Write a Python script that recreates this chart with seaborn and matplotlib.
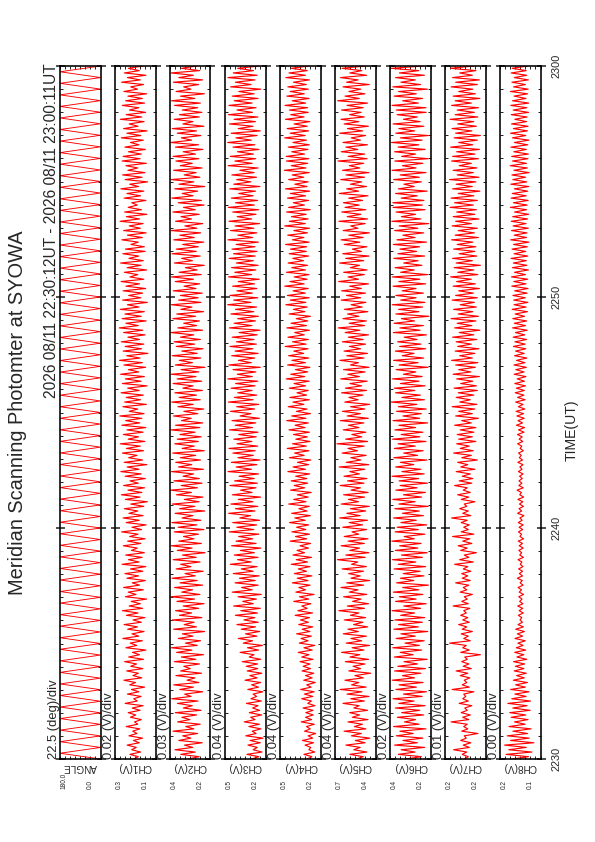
"""Meridian scanning photometer summary plot (SYOWA), page turned to portrait."""

import numpy as np
import pandas as pd
import matplotlib
matplotlib.use("Agg")
import matplotlib.pyplot as plt
import seaborn as sns
from matplotlib.ticker import MultipleLocator

# ---- data ----
title = "Meridian Scanning Photomter at SYOWA"
period = "2026 08/11 22:30:12UT - 2026 08/11 23:00:11UT"
time_ticks = ["2230", "2240", "2250", "2300"]
panel_names = ["ANGLE", "CH1(V)", "CH2(V)", "CH3(V)", "CH4(V)", "CH5(V)", "CH6(V)", "CH7(V)", "CH8(V)"]
div_labels = ["22.5 (deg)/div", "0.02 (V)/div", "0.03 (V)/div", "0.04 (V)/div", "0.04 (V)/div",
              "0.04 (V)/div", "0.02 (V)/div", "0.01 (V)/div", "0.00 (V)/div"]
val_lo = [0.0, 0.12, 0.18, 0.20, 0.20, 0.40, 0.22, 0.16, 0.130]
val_hi = [180.0, 0.28, 0.42, 0.52, 0.52, 0.72, 0.38, 0.24, 0.162]

# scan angle turning points (deg)
angle = [
    0, 180, 0, 180, 0, 180, 0, 180, 0, 180, 0, 180, 0, 180, 0, 180, 0, 180, 0, 180,
    0, 180, 0, 180, 0, 180, 0, 180, 0, 180, 0, 180, 0, 180, 0, 180, 0, 180, 0, 180,
    0, 180, 0, 180, 0, 180, 0, 180, 0, 180, 0, 180, 0, 180, 0, 180, 0, 180, 0, 180,
    0, 180, 0, 180, 0, 180, 0, 180, 0, 180, 0, 180, 0, 180, 0, 180, 0, 180, 0, 180,
    0, 180, 0, 180, 0, 180, 0, 180, 0, 180, 0, 180, 0, 180, 0, 180, 0, 180, 0, 180,
    0, 180, 0, 180, 0, 180, 0, 180, 0, 180, 0, 180, 0, 180, 0, 180, 0, 180, 0, 180,
    0,
]

# channel signals in mV, from 22:30 to 23:00
ch1 = [
    205, 188, 221, 179, 214, 196, 232, 184, 207, 171, 225, 193, 210, 182, 236, 190, 203, 176, 219, 198,
    228, 181, 212, 169, 240, 192, 206, 177, 231, 186, 215, 163, 222, 199, 245, 174, 209, 188, 234, 170,
    218, 195, 242, 167, 226, 183, 211, 158, 237, 194, 220, 172, 249, 186, 213, 165, 230, 191, 244, 176,
    209, 162, 235, 189, 251, 171, 224, 180, 216, 155, 239, 197, 228, 168, 246, 183, 212, 160, 233, 187,
    241, 170, 219, 158, 252, 185, 227, 173, 238, 164, 215, 192, 247, 178, 230, 161, 222, 189, 254, 175,
    213, 157, 236, 184, 248, 169, 225, 190, 243, 166, 218, 152, 239, 181, 255, 174, 229, 163, 246, 188,
    221, 160, 240, 176, 257, 185, 232, 154, 244, 171, 226, 193, 251, 167, 235, 180, 259, 162, 228, 187,
    247, 169, 233, 158, 253, 182, 238, 174, 261, 165, 224, 190, 249, 156, 242, 179, 236, 168, 256, 184,
    230, 153, 251, 177, 239, 164, 258, 186, 227, 159, 245, 172, 262, 181, 234, 150, 248, 175, 240, 166,
    255, 183, 229, 161, 246, 170, 263, 188, 237, 157, 252, 176, 241, 164, 259, 185, 231, 152, 250, 178,
    226, 171, 248, 159, 237, 183, 256, 166, 221, 190, 243, 155, 232, 177, 258, 168, 225, 186, 249, 161,
    239, 164, 217, 188, 253, 172, 231, 157, 246, 180, 224, 169, 260, 183, 235, 154, 242, 175, 228, 192,
    214, 158, 244, 179, 233, 166, 257, 187, 222, 151, 240, 173, 250, 162, 229, 190, 237, 156, 252, 181,
    248, 176, 227, 160, 241, 185, 219, 168, 255, 178, 233, 153, 246, 189, 224, 165, 259, 174, 236, 159,
    223, 186, 251, 163, 238, 172, 229, 155, 245, 191, 218, 167, 254, 180, 231, 158, 243, 184, 227, 170,
]
ch2 = [
    312, 248, 356, 270, 391, 285, 334, 229, 368, 297, 345, 256, 402, 279, 327, 241, 375, 302, 350, 262,
    389, 236, 341, 288, 376, 254, 410, 295, 333, 226, 362, 281, 398, 249, 319, 272, 385, 233, 357, 300,
    338, 245, 394, 267, 353, 221, 381, 290, 412, 258, 329, 239, 371, 284, 347, 215, 399, 263, 336, 277,
    405, 231, 364, 292, 387, 250, 342, 218, 379, 275, 416, 243, 351, 286, 393, 227, 361, 259, 408, 270,
    331, 223, 384, 296, 357, 242, 401, 265, 346, 212, 377, 289, 414, 234, 368, 278, 340, 251, 395, 219,
    372, 261, 409, 237, 349, 284, 390, 214, 363, 273, 406, 248, 335, 225, 382, 293, 418, 257, 354, 230,
    397, 246, 343, 280, 411, 222, 370, 291, 386, 239, 359, 268, 404, 217, 348, 276, 392, 252, 377, 235,
    361, 271, 415, 243, 387, 226, 352, 294, 399, 255, 338, 220, 373, 282, 410, 241, 366, 263, 391, 228,
    344, 283, 402, 232, 378, 266, 413, 249, 355, 213, 389, 287, 365, 238, 407, 259, 350, 224, 383, 274,
    396, 240, 358, 279, 417, 227, 374, 262, 339, 245, 403, 268, 380, 221, 356, 290, 412, 236, 369, 253,
    358, 229, 401, 266, 337, 244, 389, 281, 412, 235, 366, 259, 329, 217, 394, 287, 351, 241, 408, 264,
    383, 252, 345, 220, 398, 276, 362, 238, 415, 261, 332, 226, 387, 293, 355, 247, 403, 270, 340, 218,
    371, 234, 409, 283, 348, 256, 392, 214, 367, 279, 414, 243, 336, 265, 399, 230, 359, 288, 385, 249,
    402, 269, 342, 225, 388, 251, 416, 292, 353, 237, 377, 263, 406, 219, 344, 284, 395, 246, 364, 231,
    347, 256, 393, 240, 411, 273, 358, 216, 384, 296, 339, 250, 400, 227, 368, 281, 415, 244, 352, 262,
]
ch3 = [
    310, 252, 347, 228, 298, 265, 339, 241, 322, 219, 356, 274, 305, 236, 331, 248, 368, 283, 317, 230,
    328, 246, 302, 259, 351, 233, 315, 270, 298, 222, 340, 255, 310, 238, 362, 266, 324, 229, 345, 261,
    352, 262, 384, 238, 329, 291, 401, 255, 343, 224, 376, 302, 415, 268, 358, 246, 392, 279, 426, 257,
    371, 284, 438, 263, 395, 241, 452, 296, 380, 272, 417, 233, 463, 305, 389, 258, 441, 281, 406, 249,
    455, 297, 392, 266, 478, 313, 421, 259, 447, 288, 399, 236, 468, 274, 433, 301, 412, 252, 486, 292,
    427, 270, 459, 246, 403, 318, 491, 283, 437, 261, 474, 299, 415, 238, 462, 306, 397, 275, 481, 264,
    444, 289, 409, 255, 496, 311, 432, 268, 470, 243, 418, 296, 458, 281, 489, 262, 425, 308, 451, 273,
    412, 259, 484, 302, 439, 277, 465, 248, 401, 314, 477, 286, 428, 253, 493, 297, 446, 269, 419, 306,
    472, 282, 436, 261, 498, 304, 423, 276, 457, 241, 489, 312, 414, 285, 467, 258, 440, 299, 481, 272,
    429, 291, 463, 265, 409, 243, 485, 307, 448, 279, 420, 256, 474, 293, 437, 270, 499, 315, 452, 261,
    481, 304, 426, 268, 460, 287, 415, 249, 492, 310, 443, 276, 468, 258, 431, 296, 487, 281, 453, 267,
    465, 283, 432, 256, 497, 301, 419, 268, 476, 292, 441, 247, 488, 309, 424, 275, 459, 253, 494, 288,
    437, 262, 470, 297, 412, 279, 483, 244, 451, 316, 428, 271, 466, 290, 403, 258, 495, 305, 442, 277,
    478, 295, 421, 251, 457, 284, 499, 312, 434, 266, 472, 241, 416, 298, 485, 279, 448, 260, 493, 303,
    426, 274, 489, 306, 447, 259, 463, 290, 411, 237, 476, 314, 438, 283, 497, 266, 455, 295, 420, 248,
]
ch4 = [
    305, 268, 331, 246, 292, 277, 322, 255, 343, 262, 298, 238, 326, 281, 311, 249, 352, 270, 318, 257,
    316, 259, 338, 244, 301, 272, 349, 261, 327, 250, 357, 274, 309, 241, 333, 266, 318, 253, 346, 279,
    337, 283, 362, 259, 348, 291, 376, 266, 331, 245, 368, 298, 354, 272, 389, 284, 345, 261, 372, 296,
    358, 287, 401, 263, 379, 305, 348, 276, 412, 293, 366, 251, 395, 318, 371, 282, 423, 299, 384, 268,
    407, 311, 376, 284, 431, 302, 392, 271, 418, 326, 385, 295, 362, 278, 440, 309, 398, 287, 426, 316,
    389, 293, 445, 321, 403, 280, 428, 306, 371, 289, 451, 314, 412, 297, 384, 273, 437, 325, 408, 301,
    432, 308, 396, 285, 458, 319, 417, 294, 382, 276, 446, 329, 405, 291, 463, 312, 421, 283, 395, 304,
    413, 287, 449, 322, 401, 296, 467, 315, 428, 279, 390, 306, 455, 331, 418, 288, 442, 310, 386, 297,
    447, 318, 409, 290, 471, 325, 435, 301, 398, 284, 460, 319, 426, 292, 452, 333, 411, 298, 479, 314,
    421, 296, 457, 328, 404, 287, 466, 311, 433, 300, 392, 279, 448, 323, 414, 305, 474, 316, 439, 289,
    462, 320, 417, 297, 483, 329, 441, 306, 408, 291, 469, 318, 427, 302, 456, 334, 419, 294, 448, 312,
    437, 309, 476, 290, 422, 331, 459, 303, 411, 286, 483, 320, 446, 298, 429, 313, 468, 281, 452, 327,
    415, 294, 461, 318, 438, 285, 477, 306, 403, 297, 452, 332, 424, 289, 486, 315, 431, 301, 469, 292,
    471, 326, 428, 299, 455, 288, 418, 311, 483, 321, 440, 293, 464, 305, 409, 284, 477, 330, 436, 297,
    446, 302, 481, 317, 423, 290, 466, 328, 439, 296, 458, 312, 414, 287, 474, 319, 449, 304, 430, 291,
]
ch5 = [
    548, 497, 603, 468, 572, 521, 634, 482, 559, 445, 591, 512, 648, 476, 567, 503, 618, 459, 583, 526,
    604, 462, 571, 529, 657, 488, 596, 451, 625, 507, 680, 474, 589, 532, 642, 496, 563, 438, 611, 518,
    577, 483, 639, 455, 602, 524, 668, 491, 585, 447, 631, 509, 594, 472, 655, 536, 618, 461, 573, 499,
    646, 478, 598, 531, 690, 487, 623, 455, 581, 514, 652, 469, 607, 538, 673, 493, 628, 446, 594, 521,
    612, 495, 664, 472, 589, 540, 701, 481, 635, 452, 603, 526, 672, 488, 617, 459, 647, 533, 586, 470,
    659, 502, 608, 463, 683, 521, 627, 477, 598, 449, 671, 534, 614, 486, 652, 458, 593, 519, 679, 491,
    621, 468, 649, 527, 603, 484, 687, 453, 631, 516, 595, 474, 664, 542, 618, 489, 705, 462, 636, 508,
    587, 476, 655, 531, 614, 492, 678, 457, 624, 519, 661, 484, 597, 446, 643, 537, 610, 498, 668, 471,
    638, 509, 602, 466, 675, 527, 619, 482, 653, 451, 598, 535, 681, 491, 627, 463, 649, 518, 606, 478,
    662, 497, 615, 455, 640, 523, 694, 486, 608, 472, 657, 531, 621, 460, 646, 505, 593, 476, 671, 517,
    629, 479, 668, 512, 604, 455, 691, 534, 617, 488, 652, 467, 599, 526, 684, 493, 636, 450, 659, 511,
    583, 468, 647, 524, 672, 497, 611, 448, 656, 539, 596, 481, 689, 462, 624, 515, 667, 476, 641, 529,
    654, 502, 612, 459, 686, 533, 628, 471, 598, 509, 675, 487, 633, 452, 661, 524, 607, 493, 697, 466,
    616, 485, 671, 540, 634, 463, 657, 519, 592, 478, 683, 501, 622, 456, 648, 532, 673, 489, 605, 514,
    668, 497, 625, 462, 699, 528, 641, 483, 610, 516, 657, 449, 629, 537, 676, 471, 603, 508, 664, 482,
]
ch6 = [
    318, 256, 347, 281, 336, 243, 362, 272, 329, 250, 355, 288, 341, 238, 366, 265, 323, 279, 351, 247,
    334, 262, 359, 241, 345, 285, 368, 253, 327, 236, 357, 276, 344, 249, 371, 283, 331, 258, 362, 240,
    349, 271, 325, 233, 363, 288, 340, 255, 369, 264, 321, 245, 356, 280, 337, 231, 365, 268, 346, 252,
    361, 243, 338, 283, 372, 259, 326, 237, 358, 277, 343, 250, 367, 266, 330, 228, 354, 286, 339, 246,
    328, 261, 364, 239, 347, 278, 370, 252, 335, 233, 359, 270, 342, 257, 373, 284, 324, 242, 360, 268,
    352, 235, 337, 276, 366, 248, 331, 264, 361, 229, 345, 281, 369, 255, 327, 240, 357, 273, 340, 232,
    344, 267, 372, 245, 333, 258, 358, 286, 339, 234, 365, 271, 326, 249, 363, 280, 348, 238, 370, 262,
    336, 250, 361, 279, 345, 231, 368, 263, 329, 256, 354, 237, 347, 274, 375, 244, 333, 260, 358, 282,
    363, 241, 339, 265, 370, 253, 327, 278, 356, 230, 344, 269, 366, 247, 332, 285, 359, 239, 342, 258,
    350, 273, 324, 236, 367, 261, 341, 248, 364, 283, 335, 226, 357, 266, 346, 251, 371, 242, 338, 277,
    357, 248, 332, 277, 368, 239, 345, 262, 371, 231, 338, 284, 360, 254, 326, 269, 365, 243, 349, 275,
    341, 263, 367, 236, 353, 281, 329, 247, 362, 270, 344, 227, 373, 258, 335, 279, 356, 241, 368, 252,
    369, 246, 336, 272, 358, 233, 347, 284, 325, 256, 366, 264, 340, 238, 372, 277, 331, 250, 361, 229,
    334, 279, 362, 241, 348, 266, 374, 253, 339, 228, 357, 283, 345, 246, 368, 261, 327, 272, 352, 237,
    355, 238, 372, 268, 330, 251, 364, 276, 346, 232, 369, 259, 337, 280, 358, 244, 343, 266, 375, 249,
]
ch7 = [
    201, 194, 206, 197, 223, 192, 204, 189, 209, 198, 202, 175, 207, 195, 203, 196, 228, 193, 205, 190,
    208, 196, 201, 187, 212, 194, 205, 199, 203, 183, 226, 192, 206, 197, 202, 191, 210, 195, 218, 188,
    204, 193, 207, 196, 201, 170, 209, 192, 205, 198, 231, 190, 203, 194, 208, 186, 206, 197, 213, 192,
    205, 195, 209, 198, 203, 191, 224, 194, 207, 196, 202, 186, 210, 197, 204, 193, 219, 190, 206, 195,
    207, 189, 204, 195, 221, 184, 211, 193, 202, 178, 209, 196, 214, 187, 205, 191, 225, 183, 208, 194,
    203, 192, 208, 196, 227, 189, 205, 194, 211, 197, 202, 181, 208, 193, 215, 190, 204, 196, 221, 187,
    212, 185, 206, 190, 218, 181, 209, 195, 215, 176, 207, 188, 223, 184, 210, 192, 217, 179, 213, 186,
    216, 183, 210, 179, 221, 188, 207, 174, 219, 186, 213, 181, 226, 177, 211, 190, 218, 183, 214, 176,
    222, 178, 209, 185, 217, 172, 224, 189, 213, 180, 219, 175, 227, 186, 211, 181, 220, 173, 215, 188,
    218, 177, 225, 183, 212, 171, 221, 187, 216, 179, 228, 174, 214, 185, 223, 178, 210, 182, 226, 176,
    219, 184, 213, 172, 224, 180, 217, 188, 229, 175, 215, 183, 222, 170, 218, 186, 225, 177, 212, 181,
    223, 179, 216, 185, 227, 174, 220, 182, 214, 176, 226, 188, 219, 173, 224, 181, 217, 178, 230, 184,
    221, 176, 228, 183, 214, 171, 225, 186, 218, 179, 231, 173, 216, 184, 224, 177, 212, 188, 227, 174,
    225, 181, 217, 172, 229, 185, 213, 176, 222, 170, 219, 187, 226, 178, 215, 183, 230, 175, 220, 182,
    216, 174, 227, 188, 220, 171, 224, 180, 213, 185, 228, 176, 219, 172, 225, 186, 211, 179, 229, 183,
]
ch8 = [
    152.0, 139.5, 157.2, 136.8, 155.1, 141.3, 158.4, 135.2, 153.7, 138.9, 156.3, 140.2, 151.8, 137.4, 154.9, 142.1, 150.6, 139.8, 153.2, 141.6,
    154.3, 138.2, 151.9, 140.6, 155.8, 137.9, 152.7, 141.4, 150.3, 139.1, 153.6, 142.0, 149.7, 140.3, 151.5, 142.8, 148.9, 141.2, 150.8, 143.1,
    149.8, 142.5, 151.3, 140.9, 148.7, 143.2, 150.4, 141.7, 149.1, 143.8, 147.9, 142.0, 150.2, 144.1, 148.3, 142.7, 149.6, 143.5, 147.8, 144.3,
    146.2, 144.8, 147.5, 143.6, 146.9, 144.1, 148.0, 143.9, 146.5, 144.6, 147.2, 143.4, 146.8, 145.0, 147.7, 143.8, 146.1, 144.4, 148.3, 144.2,
    146.7, 144.2, 147.3, 143.9, 146.0, 144.7, 147.8, 143.5, 146.4, 144.9, 147.1, 143.7, 146.8, 144.3, 147.6, 143.4, 146.2, 145.0, 147.4, 144.1,
    146.9, 143.7, 147.6, 144.5, 146.3, 143.1, 148.1, 144.9, 147.0, 143.5, 146.6, 144.0, 147.9, 143.3, 146.4, 145.1, 148.5, 143.6, 147.1, 144.7,
    147.0, 144.4, 146.5, 143.8, 147.5, 144.6, 146.3, 143.9, 147.9, 144.2, 146.7, 145.2, 147.3, 143.6, 146.1, 144.8, 148.1, 144.0, 146.9, 144.5,
    148.2, 143.0, 147.4, 142.6, 149.0, 144.2, 147.8, 142.9, 148.6, 143.4, 149.3, 142.4, 147.5, 143.8, 149.6, 142.2, 148.1, 143.1, 150.0, 142.8,
    149.1, 141.9, 150.3, 142.7, 148.4, 141.5, 150.8, 143.0, 149.5, 141.2, 151.0, 142.3, 148.9, 140.8, 150.5, 142.9, 149.7, 141.6, 151.4, 142.1,
    150.2, 141.0, 151.6, 142.4, 149.8, 140.5, 152.1, 141.8, 150.7, 140.9, 151.9, 142.6, 150.1, 140.3, 152.4, 141.4, 150.9, 139.9, 151.2, 142.0,
    151.8, 140.6, 150.4, 139.8, 152.7, 141.5, 151.1, 140.1, 153.0, 141.9, 150.6, 139.5, 152.2, 140.8, 151.5, 141.2, 153.3, 140.0, 150.9, 141.7,
    152.5, 140.4, 151.3, 139.2, 153.6, 141.1, 150.8, 140.7, 152.9, 139.6, 151.7, 141.4, 153.1, 140.2, 152.0, 139.4, 150.5, 141.0, 153.8, 140.5,
    151.4, 139.7, 153.2, 141.3, 152.3, 140.1, 150.7, 139.3, 153.5, 140.9, 151.9, 141.8, 152.6, 139.0, 151.0, 140.4, 153.9, 141.1, 152.1, 139.9,
    152.8, 139.6, 151.1, 141.2, 153.4, 140.0, 150.6, 139.1, 152.2, 141.6, 153.7, 140.3, 151.4, 139.8, 152.9, 141.0, 150.3, 140.6, 153.1, 139.4,
    151.6, 140.8, 153.5, 139.3, 152.1, 141.5, 150.9, 140.2, 153.8, 139.7, 151.3, 141.9, 152.6, 139.5, 150.7, 140.9, 153.2, 141.3, 152.4, 140.1,
]

series = [np.array(angle, float)] + [np.array(c, float) / 1000.0 for c in (ch1, ch2, ch3, ch4, ch5, ch6, ch7, ch8)]

# ---- layout (pixels on a 595x842 page) ----
sns.set_style("ticks")
plt.rcParams["font.family"] = ["Liberation Sans", "DejaVu Sans"]

W, H = 595, 842
fig = plt.figure(figsize=(W / 72, H / 72), dpi=72)

top, bottom = 66, 759
pw = 40.5


def fx(x):
    return x / W


def fy(y):
    return 1 - y / H


fig.text(fx(18), fy((top + bottom) / 2), title, rotation=90, ha="center", va="center", fontsize=20)
fig.text(fx(52), fy(top - 3), period, rotation=90, ha="center", va="top", fontsize=15.5)
fig.text(fx(572), fy(430), "TIME(UT)", rotation=90, ha="center", va="center", fontsize=14)

for i, vals in enumerate(series):
    x0 = 60 + 55 * i
    ax = fig.add_axes([fx(x0), fy(bottom), pw / W, (bottom - top) / H])
    df = pd.DataFrame({"value": vals, "minute": np.linspace(0, 30, len(vals))})
    sns.lineplot(data=df, x="value", y="minute", orient="y", estimator=None, sort=False,
                 color="red", lw=0.9 if i == 0 else 1.15, legend=False, ax=ax)

    lo, hi = val_lo[i], val_hi[i]
    ax.set_xlim(hi, lo)
    ax.set_ylim(0, 30)
    ax.set_xlabel("")
    ax.set_ylabel("")
    ax.set_xticks(np.linspace(lo, hi, 9))
    ax.yaxis.set_major_locator(MultipleLocator(10))
    ax.yaxis.set_minor_locator(MultipleLocator(1))
    ax.tick_params(axis="x", which="both", direction="in", length=3, width=1,
                   top=True, bottom=True, labelbottom=False)
    ax.tick_params(axis="y", which="major", direction="inout", length=9, width=1.6,
                   left=True, right=True, labelleft=False)
    ax.tick_params(axis="y", which="minor", direction="in", length=3, width=1,
                   left=True, right=True)
    for sp in ax.spines.values():
        sp.set_linewidth(1.6)
        sp.set_color("black")

    # per-panel annotations
    fig.text(fx(x0 - 6), fy(bottom), div_labels[i], rotation=90, ha="center", va="bottom", fontsize=13)
    fig.text(fx(x0 + pw / 2), fy(767), panel_names[i], rotation=180, ha="center", va="center", fontsize=10)
    fig.text(fx(x0 + 1), fy(789), f"{hi:.1f}", rotation=90, ha="left", va="bottom", fontsize=6.5)
    fig.text(fx(x0 + pw - 7), fy(789), f"{lo:.1f}", rotation=90, ha="right", va="bottom", fontsize=6.5)

    if i == len(series) - 1:
        ax.set_yticks([0, 10, 20, 30], time_ticks)
        ax.tick_params(axis="y", which="major", labelright=True, labelsize=11, pad=7)
        for lab in ax.get_yticklabels():
            lab.set_rotation(90)
            lab.set_va("center")

fig.savefig("out.png", dpi=72)
